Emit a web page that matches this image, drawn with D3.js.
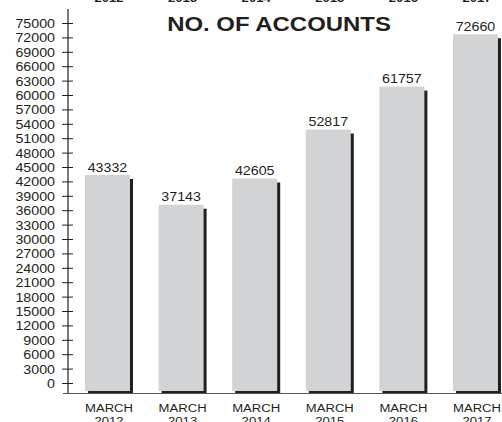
<!DOCTYPE html>
<html>
<head>
<meta charset="utf-8">
<script src="https://cdn.jsdelivr.net/npm/d3@7"></script>
<style>
  html, body { margin: 0; padding: 0; background: #fff; }
  svg { display: block; }
  text { font-family: "Liberation Sans", Arial, Helvetica, sans-serif; fill: #231f20; }
</style>
</head>
<body>
<svg id="chart" width="502" height="422"></svg>
<script>
const categories = ["2012", "2013", "2014", "2015", "2016", "2017"];
const monthLabel = "MARCH";
const accounts = [43332, 37143, 42605, 52817, 61757, 72660];
const yTicks = [0, 3000, 6000, 9000, 12000, 15000, 18000, 21000, 24000, 27000, 30000, 33000,
                36000, 39000, 42000, 45000, 48000, 51000, 54000, 57000, 60000, 63000, 66000,
                69000, 72000, 75000];
const title = "NO. OF ACCOUNTS";

const W = 502, H = 422;
const svg = d3.select("#chart");
const SX = 1.14; // horizontal stretch of the printed type

const x = d3.scaleBand().domain(categories).range([70.3, 512.7]).paddingInner(0.389).paddingOuter(0.2);
const y = d3.scaleLinear().domain([0, 75000]).range([383, 23]);
const baseY = 393;

function stretchedText(g, tx, ty, str, size, anchor, weight) {
  return g.append("text")
    .attr("transform", `translate(${tx},${ty}) scale(${SX},1)`)
    .attr("text-anchor", anchor)
    .attr("font-size", size)
    .attr("font-weight", weight || "normal")
    .text(str);
}

// cut-off year labels of the chart printed above (only their feet show)
const topG = svg.append("g");
categories.forEach(c => {
  stretchedText(topG, x(c) + x.bandwidth() / 2 + 1.5, 1.6, c, 11.5, "middle", "bold").attr("fill", "#231f20");
});

// bars: shadow then face
const barG = svg.append("g");
barG.selectAll("rect.shadow").data(accounts).join("rect")
  .attr("class", "shadow")
  .attr("x", (d, i) => x(categories[i]) + 3)
  .attr("y", d => y(d) + 4)
  .attr("width", x.bandwidth())
  .attr("height", d => baseY - (y(d) + 4))
  .attr("fill", "#231f20");
barG.selectAll("rect.face").data(accounts).join("rect")
  .attr("class", "face")
  .attr("x", (d, i) => x(categories[i]))
  .attr("y", d => y(d))
  .attr("width", x.bandwidth())
  .attr("height", d => baseY - 2 - y(d))
  .attr("fill", "#d1d3d5");

// value labels
const valG = svg.append("g");
accounts.forEach((d, i) => {
  stretchedText(valG, x(categories[i]) + x.bandwidth() / 2, y(d) - 3.5, String(d), 12.5, "middle");
});

// y axis
const yAxis = d3.axisLeft(y).tickValues(yTicks).tickSize(0).tickFormat(d => d);
const yAxisG = svg.append("g").attr("transform", "translate(68,0)").call(yAxis);
yAxisG.select(".domain").remove();
yAxisG.selectAll(".tick text").remove();
yAxisG.selectAll(".tick").append("line")
  .attr("x1", -6).attr("x2", 5).attr("stroke", "#231f20").attr("stroke-width", 1);
yAxisG.selectAll(".tick").each(function(d) {
  const g = d3.select(this);
  g.append("text")
    .attr("transform", `translate(-13,4.5) scale(${SX},1)`)
    .attr("text-anchor", "end")
    .attr("font-size", 12.5)
    .text(d);
});
svg.append("line").attr("x1", 68).attr("x2", 68).attr("y1", 9).attr("y2", baseY)
  .attr("stroke", "#231f20").attr("stroke-width", 1.2);

// x axis line
svg.append("line").attr("x1", 63).attr("x2", W).attr("y1", baseY + 0.5).attr("y2", baseY + 0.5)
  .attr("stroke", "#555").attr("stroke-width", 1.2);

// x labels
const xAxis = d3.axisBottom(x).tickSize(0).tickFormat(() => "");
const xAxisG = svg.append("g").attr("transform", `translate(1.5,${baseY})`).call(xAxis);
xAxisG.select(".domain").remove();
xAxisG.selectAll(".tick").each(function(c) {
  const g = d3.select(this);
  g.append("text").attr("transform", `translate(0,19) scale(${SX},1)`)
    .attr("text-anchor", "middle").attr("font-size", 11.5).attr("fill", "#231f20").text(monthLabel);
  g.append("text").attr("transform", `translate(0,32) scale(${SX},1)`)
    .attr("text-anchor", "middle").attr("font-size", 11.5).attr("fill", "#231f20").text(c);
});

// title
stretchedText(svg, 279, 31, title, 21, "middle", "bold").attr("fill", "#333");
</script>
</body>
</html>
